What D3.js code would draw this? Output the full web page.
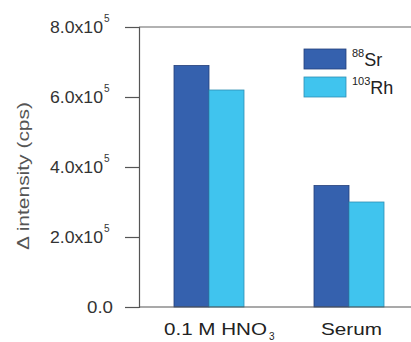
<!DOCTYPE html>
<html>
<head>
<meta charset="utf-8">
<script src="https://cdn.jsdelivr.net/npm/d3@7"></script>
<style>
  body { margin: 0; background: #fff; }
  svg { display: block; font-family: "Liberation Sans", Arial, sans-serif; }
</style>
</head>
<body>
<svg id="chart" width="411" height="342"></svg>
<script>
const categories = ["0.1 M HNO3", "Serum"];
const series = ["Sr", "Rh"];
const isotopes = ["88", "103"];
const srValues = [6.9e5, 3.47e5];
const rhValues = [6.2e5, 3.0e5];
const yTicks = [0, 2e5, 4e5, 6e5, 8e5];

const colors = ["#3561ae", "#40c4ee"];
const strokes = ["#233f7a", "#2f8fb3"];

const svg = d3.select("#chart");
const margin = { top: 27, left: 139, bottom: 35 };
const height = 342;

const y = d3.scaleLinear().domain([0, 8e5]).range([height - margin.bottom, margin.top]);
const x0 = d3.scaleBand().domain(categories).range([margin.left, margin.left + 280]);
const x1 = d3.scaleBand().domain(series).range([-35, 35]);

const data = categories.map((c, i) => ({ cat: c, vals: [srValues[i], rhValues[i]] }));

// ----------------------- frame lines
svg.append("line")
   .attr("x1", margin.left).attr("x2", 420)
   .attr("y1", y(8e5)).attr("y2", y(8e5))
   .attr("stroke", "#666").attr("stroke-width", 1.2);

// ----------------------- bars
const groups = svg.selectAll(".grp")
   .data(data)
   .join("g")
   .attr("class", "grp")
   .attr("transform", d => `translate(${x0(d.cat) + x0.bandwidth() / 2},0)`);

groups.selectAll("rect")
   .data(d => d.vals.map((v, i) => ({ key: series[i], v, i })))
   .join("rect")
   .attr("x", d => x1(d.key))
   .attr("width", x1.bandwidth())
   .attr("y", d => y(d.v))
   .attr("height", d => y(0) - y(d.v))
   .attr("fill", d => colors[d.i])
   .attr("stroke", d => strokes[d.i])
   .attr("stroke-width", 0.8);

// ----------------------- y axis
const yAxis = svg.append("g")
   .attr("transform", `translate(${margin.left},0)`)
   .call(d3.axisLeft(y).tickValues(yTicks).tickSize(14).tickFormat(""));
yAxis.select(".domain").attr("stroke", "#555").attr("stroke-width", 1.2);
yAxis.selectAll(".tick line").attr("stroke", "#555").attr("stroke-width", 1.2);

const labels = svg.append("g").attr("fill", "#333").style("font-size", "16px");
yTicks.forEach(t => {
   const txt = labels.append("text")
      .attr("x", t === 0 ? 113 : 103)
      .attr("y", y(t) + 6)
      .attr("text-anchor", "end");
   if (t === 0) {
      txt.text("0.0").attr("textLength", 26).attr("lengthAdjust", "spacingAndGlyphs");
   } else {
      txt.text(d3.format(".1f")(t / 1e5) + "x10")
         .attr("textLength", 53).attr("lengthAdjust", "spacingAndGlyphs");
      labels.append("text")
         .attr("x", 104).attr("y", y(t) - 5)
         .style("font-size", "10px")
         .text("5");
   }
});

// ----------------------- x axis
svg.append("line")
   .attr("x1", margin.left).attr("x2", 420)
   .attr("y1", y(0)).attr("y2", y(0))
   .attr("stroke", "#555").attr("stroke-width", 1.2);

const xl = svg.append("g").attr("fill", "#222").style("font-size", "17px");
categories.forEach(c => {
   const cx = x0(c) + x0.bandwidth() / 2;
   if (c.endsWith("3")) {
      xl.append("text")
         .attr("x", cx - 45).attr("y", 335)
         .attr("textLength", 103).attr("lengthAdjust", "spacingAndGlyphs")
         .text(c.slice(0, -1));
      xl.append("text")
         .attr("x", cx + 60).attr("y", 340)
         .style("font-size", "10px")
         .text("3");
   } else {
      xl.append("text")
         .attr("x", cx - 28).attr("y", 335)
         .attr("textLength", 61).attr("lengthAdjust", "spacingAndGlyphs")
         .text(c);
   }
});

// ----------------------- y title
svg.append("text")
   .attr("transform", `translate(29,${(y(0) + y(8e5)) / 2 + 9}) rotate(-90)`)
   .attr("text-anchor", "middle")
   .attr("fill", "#555")
   .style("font-size", "16px")
   .attr("textLength", 148).attr("lengthAdjust", "spacingAndGlyphs")
   .text("\u0394 intensity (cps)");

// ----------------------- legend
const legend = svg.append("g").attr("transform", "translate(304,49)");
series.forEach((s, i) => {
   const g = legend.append("g").attr("transform", `translate(0,${i * 28})`);
   g.append("rect")
      .attr("width", 42).attr("height", 20)
      .attr("fill", colors[i]).attr("stroke", strokes[i]).attr("stroke-width", 0.8);
   const t = g.append("text").attr("x", 48).attr("y", 17).attr("fill", "#222");
   t.append("tspan").style("font-size", "11px").attr("dy", -9).text(isotopes[i]);
   t.append("tspan").style("font-size", "18px").attr("dy", 9).text(s);
});
</script>
</body>
</html>
